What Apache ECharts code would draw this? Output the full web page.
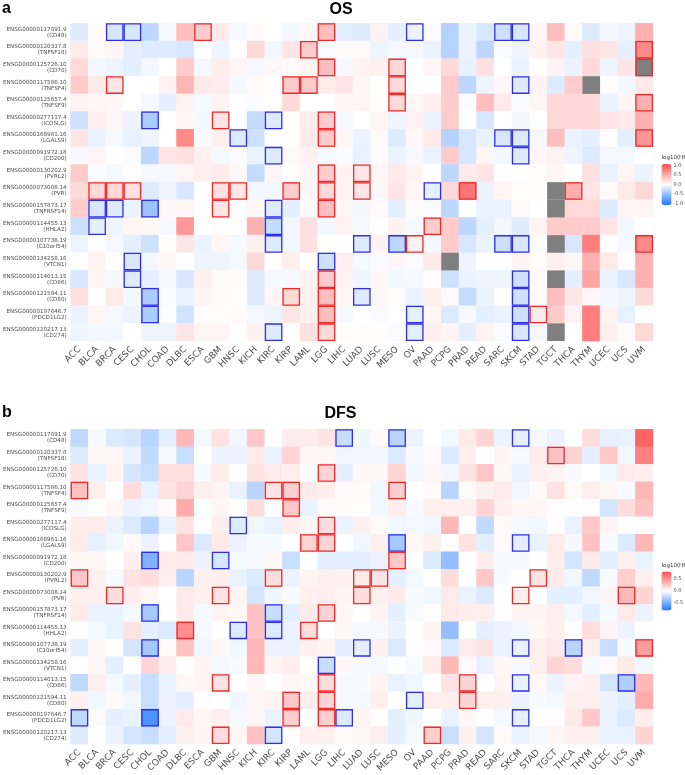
<!DOCTYPE html>
<html><head><meta charset="utf-8">
<script src="https://cdn.jsdelivr.net/npm/echarts@6/dist/echarts.min.js"></script>
<style>html,body{margin:0;padding:0;background:#fff}#chart{width:685px;height:775px}</style>
</head><body><div id="chart"></div>
<script>
const cancers = ['ACC','BLCA','BRCA','CESC','CHOL','COAD','DLBC','ESCA','GBM','HNSC','KICH','KIRC','KIRP','LAML','LGG','LIHC','LUAD','LUSC','MESO','OV','PAAD','PCPG','PRAD','READ','SARC','SKCM','STAD','TGCT','THCA','THYM','UCEC','UCS','UVM'];
const geneIds = ['ENSG00000117091.9','ENSG00000120337.8','ENSG00000125726.10','ENSG00000117586.10','ENSG00000125657.4','ENSG00000277117.4','ENSG00000168961.16','ENSG00000091972.18','ENSG00000130202.9','ENSG00000073008.14','ENSG00000157873.17','ENSG00000114455.13','ENSG00000107738.19','ENSG00000134258.16','ENSG00000114013.15','ENSG00000121594.11','ENSG00000197646.7','ENSG00000120217.13'];
const geneSymbols = ['CD48','TNFSF18','CD70','TNFSF4','TNFSF9','ICOSLG','LGALS9','CD200','PVRL2','PVR','TNFRSF14','HHLA2','C10orf54','VTCN1','CD86','CD80','PDCD1LG2','CD274'];

// log10(HR), overall survival (null = not available)
const osValues = [
[-0.16,0.03,-0.19,-0.19,-0.32,-0.05,0.4,0.32,0.13,-0.05,0.03,0,-0.06,0.05,0.4,-0.13,-0.16,0.08,-0.13,-0.1,-0.03,-0.35,-0.1,-0.19,-0.24,-0.19,0.05,0.4,0.03,-0.16,-0.06,-0.08,0.48],
[0.13,0.03,0.05,-0.13,-0.16,-0.16,-0.19,0,-0.08,0,0.24,-0.06,0.16,0.32,-0.03,0.03,0.03,-0.08,-0.05,-0.05,-0.1,-0.35,-0.1,-0.32,-0.03,-0.08,0.08,0.16,-0.13,0.19,0.16,-0.13,0.72],
[0.24,-0.06,-0.08,-0.13,-0.06,0,0.32,-0.05,0.11,0.06,-0.05,0.05,0.03,0.06,0.4,-0.05,0.08,0.1,0.24,0,0.06,0.24,-0.11,0.19,0,-0.1,0,0.08,-0.1,0.24,-0.08,0.16,null],
[0.32,0.13,0.16,0,0,0.08,0.45,0.13,0.11,-0.06,0.03,0.02,0.32,0.32,0.13,0.16,0.05,0,0.24,0,0,0.32,-0.32,-0.08,0.05,-0.16,0.08,-0.16,0.32,null,0.02,-0.06,0.13],
[0.08,0.06,0.05,0,-0.05,-0.13,0.08,-0.05,0.08,0,-0.03,0.02,0.24,0,0,0.06,0.06,0.02,0.24,0.05,0.1,0.32,-0.03,0.4,0.13,-0.03,0.06,0.24,0.24,0.24,-0.1,0.06,0.48],
[-0.24,0.1,0.06,-0.1,-0.4,0,0.06,-0.06,0.16,0,-0.29,-0.16,0.02,0.11,0.32,-0.05,0,0.06,-0.08,0.08,-0.1,0.32,0,-0.19,0,-0.06,0,0.24,0.24,0.24,0.16,0.13,0.48],
[0.16,-0.11,-0.05,-0.11,-0.08,0,0.72,-0.03,0.1,-0.16,-0.24,0,0.02,0.13,0.32,0.05,-0.1,0.03,-0.16,0.05,0.13,-0.35,-0.19,-0.11,-0.19,-0.16,-0.05,0.4,-0.1,-0.13,0.02,-0.13,0.64],
[-0.05,0.06,0,-0.03,-0.32,0.16,0.19,0.1,-0.05,-0.03,-0.1,-0.16,0.03,0.08,-0.05,-0.03,-0.11,0.03,-0.1,-0.05,-0.1,0.32,-0.19,0.06,-0.06,-0.16,0.05,0.08,-0.08,-0.16,-0.05,-0.05,0],
[0.32,-0.03,-0.05,0,-0.05,-0.05,0.06,0.1,0.13,0.05,-0.29,0.05,0,0.05,0.32,0.08,0.16,0.06,0.13,0.08,0,-0.32,0.13,0.16,0,0,0.02,0.06,0,0.19,-0.11,0.06,-0.1],
[0.24,0.24,0.24,0.19,-0.16,-0.08,-0.19,0,0.19,0.16,-0.06,-0.06,0.32,0.05,0.24,0.08,0.16,0.05,0.16,0.05,-0.13,0.24,0.85,-0.1,0.06,0.02,0.02,null,0.5,0.16,0.03,0.13,0.24],
[0.32,-0.19,-0.16,-0.1,-0.48,0.05,0.06,0,0.16,-0.03,0.05,-0.16,-0.13,0.03,0.4,0.06,-0.06,0.03,-0.13,0.03,-0.03,-0.32,0,-0.1,-0.1,0.03,0,null,0.24,0.24,-0.16,0.05,0.06],
[-0.24,-0.13,-0.08,0.06,0.05,-0.05,0.64,0,0.02,0.02,0.48,-0.29,-0.06,0.19,-0.06,0.08,-0.05,0,0.08,-0.05,0.32,0.32,-0.32,-0.13,-0.06,-0.16,0.06,0.32,0.32,0.32,0.16,-0.06,0],
[-0.08,-0.02,-0.05,-0.13,-0.24,0.02,0.16,-0.1,0.05,-0.05,0.1,-0.16,-0.06,0.19,0,0,-0.16,0.08,-0.32,0.08,-0.06,0.32,-0.19,-0.1,-0.24,-0.19,-0.03,null,-0.19,0.8,0,-0.05,0.72],
[0,0.08,0,-0.19,-0.06,0.05,0,-0.08,-0.08,-0.05,0.24,0,0.1,0,-0.24,0.1,-0.05,-0.03,0.05,-0.03,0.13,null,-0.08,0,0,0.06,0.02,0.1,0.05,0.48,0.13,0.02,0.48],
[-0.19,0.06,-0.05,-0.16,-0.13,-0.05,-0.19,0.1,0.03,0.03,-0.16,-0.05,-0.05,0.08,0.32,0.08,-0.08,0.05,-0.06,-0.05,0.02,-0.24,-0.1,-0.08,-0.08,-0.24,0.03,null,-0.13,0.56,-0.1,-0.19,0.48],
[0.19,0,0.13,-0.06,-0.4,-0.03,-0.1,0.06,0.03,0.02,-0.16,0.06,0.24,0.1,0.4,0.06,-0.16,0.05,0.02,-0.1,0.1,0.03,-0.29,-0.1,0.02,-0.24,0.03,0.4,0.16,0.05,-0.06,-0.08,0.24],
[-0.1,0.06,-0.05,-0.1,-0.4,-0.02,-0.22,0.02,0.02,0.03,-0.05,-0.08,0.16,0.1,0.4,-0.05,0,-0.03,0,-0.13,0.06,-0.16,-0.05,-0.13,-0.1,-0.24,0.13,0.32,0.08,0.8,0.08,-0.11,0.02],
[-0.08,-0.06,-0.06,0,-0.08,-0.08,0.16,0.06,0.06,0,0.08,-0.16,0,0.19,0.24,0.02,0.02,0.02,-0.03,-0.13,0.1,0.06,-0.13,0.08,-0.03,-0.19,-0.05,null,0,0.8,0.1,0.03,0.24]
];

// log10(HR), disease-free survival
const dfsValues = [
[-0.23,-0.03,-0.13,-0.16,-0.26,-0.1,0.33,-0.04,0.13,-0.05,0.26,0.01,0.09,0.09,0.13,-0.2,-0.05,0.03,-0.26,-0.07,0,-0.04,0.1,0.2,-0.07,-0.1,-0.04,-0.07,0,0.16,-0.09,-0.08,0.72],
[-0.13,0.04,0.04,-0.08,-0.23,-0.03,-0.2,0,-0.07,-0.07,0.1,-0.08,0.2,0.04,0.04,-0.05,-0.05,-0.05,-0.13,-0.03,0.03,-0.13,0.08,0,0.05,-0.03,0.1,0.29,0.2,-0.1,0.26,-0.05,0.59],
[0.13,-0.08,0.05,-0.16,-0.2,0.16,0.16,-0.03,0.09,0,0.13,0.1,0.08,0,0.2,-0.1,0.04,0.04,0.2,-0.05,0.04,-0.05,0.13,0.26,0.04,-0.08,0.07,0.05,-0.03,0,-0.05,0.1,0.08],
[0.29,0.07,0.01,0.16,-0.08,0.13,0.2,0.07,0.05,-0.08,-0.26,0.13,0.23,0.1,0.08,0.03,0.03,-0.05,0.23,0,0.03,-0.26,0.03,0.07,0.1,-0.05,0.03,0.13,0.03,0.08,0.04,-0.03,0.33],
[-0.03,0,0.04,-0.07,-0.05,0.03,0.39,-0.01,0.04,0,0.16,0,0.26,-0.08,0.03,0.03,0.01,-0.05,0.08,-0.03,0.07,0.07,0.07,0.2,0.07,0.04,0.04,0.01,0.01,-0.01,-0.16,0.16,0.29],
[0.09,0.09,-0.07,-0.13,-0.26,-0.08,0.13,0,0.08,-0.13,-0.05,-0.08,0.08,0.04,0.16,-0.07,0.07,0.03,-0.05,-0.04,-0.05,0.33,0,-0.23,0.03,-0.04,-0.05,0.01,-0.08,0.26,0.05,0,0.01],
[0.1,-0.09,-0.05,0.03,-0.07,0,0.26,-0.13,0.1,-0.07,-0.03,-0.03,0,0.2,0.2,0,-0.05,0.08,-0.33,0.04,0.07,0.01,0.13,-0.1,0.03,-0.1,-0.08,0.1,-0.04,0.29,-0.03,-0.13,0.33],
[0.04,0.04,0,0.08,-0.46,0.1,0.1,-0.07,-0.16,-0.04,-0.03,0.04,-0.2,0,-0.1,-0.1,-0.1,-0.07,0.26,0.01,-0.13,-0.39,0,0.08,-0.03,-0.04,0.01,0.08,-0.16,0.1,-0.1,0.07,-0.08],
[0.26,0.07,-0.03,0.13,0.16,0.08,-0.26,0.07,0.08,-0.08,-0.13,0.16,-0.07,0.05,0.08,0.07,0.1,0.13,-0.1,-0.04,0.01,0.16,0,0.26,-0.03,0,0.13,0.1,-0.05,-0.23,-0.03,0.23,0.08],
[0.08,0.07,0.16,0.08,0.04,0,0.1,0.07,0.13,0.05,-0.16,-0.05,-0.03,0.07,0.08,0.05,0.16,0.07,0.1,-0.03,-0.05,0.1,-0.07,-0.13,0,0.08,0,-0.1,-0.1,-0.05,0.05,0.33,0.2],
[0.1,-0.08,-0.08,-0.04,-0.33,0,0.1,-0.03,0.05,0.04,0.29,-0.2,-0.1,0.1,0.2,0.04,0,0.05,-0.1,-0.03,0.01,0.1,0.08,0.08,0.01,0.05,0.05,0.08,-0.04,-0.1,-0.04,0.1,-0.07],
[0.01,-0.04,-0.08,0.13,-0.1,-0.13,0.52,-0.04,0,-0.13,0.29,-0.13,-0.08,0.16,0,0.04,-0.04,-0.04,-0.07,0,0.05,-0.39,0,-0.1,-0.07,-0.05,0.04,0.07,0,0.16,0.05,-0.07,0],
[-0.1,0.04,0.01,-0.16,-0.33,0.03,0.29,-0.05,0.04,-0.05,0.33,-0.07,-0.07,0.07,0.05,-0.1,-0.1,0.08,-0.13,0,0.03,-0.13,0.1,0.13,-0.08,-0.08,0.08,0.1,-0.26,0.08,-0.2,-0.03,0.46],
[0,0.04,-0.1,0,0.2,0.1,0,0.05,-0.04,-0.03,0.33,0.05,0.08,0,-0.2,0.04,-0.03,-0.04,0,-0.03,0.1,0.33,0.03,-0.08,0.04,-0.03,0.08,0.2,0.16,-0.04,0.03,0.1,-0.05],
[-0.23,0.07,-0.04,-0.1,-0.2,-0.08,0.04,0.05,0.13,0,0.04,0,0.04,0.03,0.16,-0.04,-0.03,0.05,-0.08,-0.05,0,0.13,0.2,0,0.05,-0.08,0.03,-0.07,0.05,0.07,-0.16,-0.29,0.33],
[0.07,-0.05,0.03,-0.05,-0.2,-0.07,-0.1,0.01,0,-0.05,0.04,0.05,0.26,0.08,0.2,-0.04,-0.04,0.07,0,-0.1,0.08,0.08,0.2,0.07,0.07,-0.07,-0.03,-0.04,0.07,0.08,-0.07,-0.1,0.39],
[-0.23,0.03,-0.1,-0.08,-0.65,-0.07,0.1,0.04,0.08,-0.04,0.04,-0.08,0.23,0,0.23,-0.13,0.05,0.01,-0.1,-0.05,0,-0.08,0.04,0,-0.04,-0.1,0,0.01,0.1,0.26,-0.08,-0.13,0.08],
[-0.13,0,-0.07,-0.16,-0.2,-0.1,0.07,0.05,0.16,0.04,0.29,-0.16,0,0.07,0.07,0.03,0.04,0.07,-0.1,-0.04,0.23,-0.2,0.07,-0.16,0.03,-0.08,-0.04,0.04,0.07,0.07,-0.08,-0.08,0.2]
];

// significant cells: '+' = outlined red (HR>1), '-' = outlined blue (HR<1)
const osSig = [
['BRCA-','CESC-','ESCA+','LGG+','OV-','SARC-','SKCM-'],
['LAML+','UVM+'],
['LGG+','MESO+','UVM+'],
['BRCA+','KIRP+','LAML+','MESO+','SKCM-'],
['MESO+','UVM+'],
['CHOL-','GBM+','KIRC-','LGG+'],
['HNSC-','LGG+','SARC-','SKCM-','UVM+'],
['KIRC-','SKCM-'],
['LGG+','LUAD+'],
['BLCA+','BRCA+','CESC+','GBM+','HNSC+','KIRP+','LGG+','LUAD+','PAAD-','PRAD+','THCA+'],
['BLCA-','BRCA-','CHOL-','GBM+','KIRC-','LGG+'],
['BLCA-','KIRC-','PAAD+'],
['KIRC-','LUAD-','MESO-','OV+','SARC-','SKCM-','UVM+'],
['CESC-','LGG-'],
['CESC-','LGG+','SKCM-'],
['CHOL-','KIRP+','LGG+','LUAD-','SKCM-'],
['CHOL-','LGG+','OV-','SKCM-','STAD+'],
['KIRC-','LGG+','OV-','SKCM-']
];
const dfsSig = [
['LIHC-','MESO-','SKCM-'],
['TGCT+'],
['LGG+'],
['ACC+','KIRC+','KIRP+','MESO+'],
['KIRP+'],
['HNSC-','LGG+'],
['LAML+','LGG+','MESO-','SKCM-'],
['CHOL-','GBM-','MESO+'],
['ACC+','KIRC+','LUAD+','LUSC+','STAD+'],
['BRCA+','GBM+','LUAD+','SKCM+','UCS+'],
['CHOL-','KIRC-','LGG+'],
['DLBC+','HNSC-','KIRC-','LAML+'],
['CHOL-','LUAD-','SKCM-','THCA-','UVM+'],
['LGG-'],
['GBM+','LGG+','PRAD+','SKCM-','UCS-'],
['KIRP+','LGG+','OV-','PRAD+'],
['ACC-','CHOL-','KIRP+','LGG+','LIHC-','SKCM-'],
['GBM+','KIRC-','PAAD+']
];

const osLegendTicks = [1.0, 0.5, 0.0, -0.5, -1.0];
const dfsLegendTicks = [0.5, 0.0, -0.5];
const osLimit = 1.08, dfsLimit = 0.82;

const palette = ['#1f78ff', '#ffffff', '#ff4f4f'];
const FONT = 'DejaVu Sans';
const rowLabels = geneIds.map((g, i) => g + '\n(' + geneSymbols[i] + ')');

function heatData(m) { const out = []; m.forEach((row, r) => row.forEach((v, c) => { if (v !== null) out.push([c, r, v]); })); return out; }
function naData(m) { const out = []; m.forEach((row, r) => row.forEach((v, c) => { if (v === null) out.push([c, r]); })); return out; }
function sigData(sig) {
  const out = [];
  sig.forEach((list, r) => list.forEach(s => {
    out.push([cancers.indexOf(s.slice(0, -1)), r, s.slice(-1) === '+' ? 1 : -1]);
  }));
  return out;
}
function cellRect(api) {
  const p = api.coord([api.value(0), api.value(1)]);
  const s = api.size([1, 1]);
  return { x: p[0] - s[0] / 2, y: p[1] - s[1] / 2, w: s[0], h: s[1] };
}
function naRender(params, api) {
  const c = cellRect(api);
  return { type: 'rect', shape: { x: c.x, y: c.y, width: c.w, height: c.h }, style: { fill: '#7f7f7f' } };
}
function boxRender(params, api) {
  const c = cellRect(api); const d = 0.65;
  return { type: 'rect', shape: { x: c.x + d, y: c.y + d, width: c.w - 2 * d, height: c.h - 2 * d },
    style: { fill: 'none', stroke: api.value(2) > 0 ? '#ee2b2b' : '#2f2fe8', lineWidth: 1.3 } };
}

const grids = [
  { left: 70, top: 23.3, width: 583, height: 317.7 },
  { left: 70, top: 429.3, width: 583, height: 317.4 }
];
const legends = [
  { top: 164, height: 41, limit: osLimit, ticks: osLegendTicks, title: 158 },
  { top: 571.5, height: 39, limit: dfsLimit, ticks: dfsLegendTicks, title: 565.5 }
];

const xAxes = grids.map((g, i) => ({
  type: 'category', gridIndex: i, data: cancers,
  axisLine: { show: false }, axisTick: { show: false }, splitLine: { show: false },
  axisLabel: { interval: 0, rotate: 45, margin: 7, fontSize: 9, fontFamily: FONT, color: '#4d4d4d' }
}));
const yAxes = grids.map((g, i) => ({
  type: 'category', gridIndex: i, data: rowLabels, inverse: true,
  axisLine: { show: false }, axisTick: { show: false }, splitLine: { show: false },
  axisLabel: { interval: 0, margin: 4, fontSize: 5.6, lineHeight: 6, fontFamily: FONT, color: '#4d4d4d', align: 'right' }
}));

const graphics = [
  { type: 'text', style: { text: 'a', x: 2, y: 17, fontSize: 16, fontWeight: 'bold', fontFamily: 'Liberation Sans', fill: '#000', verticalAlign: 'bottom' } },
  { type: 'text', style: { text: 'OS', x: 341, y: 18, fontSize: 16, fontWeight: 'bold', fontFamily: 'Liberation Sans', fill: '#000', align: 'center', verticalAlign: 'bottom' } },
  { type: 'text', style: { text: 'b', x: 2, y: 421, fontSize: 16, fontWeight: 'bold', fontFamily: 'Liberation Sans', fill: '#000', verticalAlign: 'bottom' } },
  { type: 'text', style: { text: 'DFS', x: 340.5, y: 422, fontSize: 16, fontWeight: 'bold', fontFamily: 'Liberation Sans', fill: '#000', align: 'center', verticalAlign: 'bottom' } }
];
legends.forEach(L => {
  graphics.push({ type: 'text', style: { text: 'log10(HR)', x: 661.5, y: L.title, fontSize: 5.5, fontFamily: FONT, fill: '#333', verticalAlign: 'middle' } });
  L.ticks.forEach(t => {
    const y = L.top + (L.limit - t) / (2 * L.limit) * L.height;
    graphics.push({ type: 'text', style: { text: t.toFixed(1), x: 673.5, y: y, fontSize: 5, fontFamily: FONT, fill: '#4d4d4d', verticalAlign: 'middle' } });
    graphics.push({ type: 'line', shape: { x1: 661.5, y1: y, x2: 663.5, y2: y }, style: { stroke: '#fff', lineWidth: 0.6 } });
    graphics.push({ type: 'line', shape: { x1: 669.5, y1: y, x2: 671.5, y2: y }, style: { stroke: '#fff', lineWidth: 0.6 } });
  });
});

const option = {
  animation: false,
  backgroundColor: '#ffffff',
  grid: grids,
  xAxis: xAxes,
  yAxis: yAxes,
  visualMap: [
    { type: 'continuous', seriesIndex: 0, min: -osLimit, max: osLimit, left: 661.5, top: legends[0].top, itemWidth: 10, itemHeight: legends[0].height, calculable: false, padding: 0, inRange: { color: palette } },
    { type: 'continuous', seriesIndex: 1, min: -dfsLimit, max: dfsLimit, left: 661.5, top: legends[1].top, itemWidth: 10, itemHeight: legends[1].height, calculable: false, padding: 0, inRange: { color: palette } }
  ],
  series: [
    { type: 'heatmap', xAxisIndex: 0, yAxisIndex: 0, data: heatData(osValues), silent: true, z: 2 },
    { type: 'heatmap', xAxisIndex: 1, yAxisIndex: 1, data: heatData(dfsValues), silent: true, z: 2 },
    { type: 'custom', xAxisIndex: 0, yAxisIndex: 0, data: naData(osValues), renderItem: naRender, silent: true, z: 3 },
    { type: 'custom', xAxisIndex: 1, yAxisIndex: 1, data: naData(dfsValues), renderItem: naRender, silent: true, z: 3 },
    { type: 'custom', xAxisIndex: 0, yAxisIndex: 0, data: sigData(osSig), renderItem: boxRender, silent: true, z: 4 },
    { type: 'custom', xAxisIndex: 1, yAxisIndex: 1, data: sigData(dfsSig), renderItem: boxRender, silent: true, z: 4 }
  ],
  graphic: graphics
};

const chart = echarts.init(document.getElementById('chart'), null, { renderer: 'canvas' });
chart.setOption(option);
</script></body></html>
